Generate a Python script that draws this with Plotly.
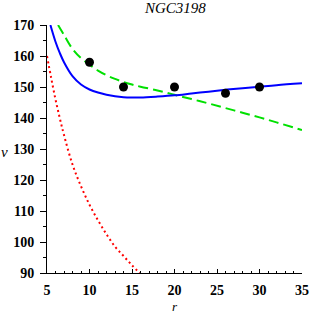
import plotly.graph_objects as go

# Observed data points
obs_r = [10, 14, 20, 26, 30]
obs_v = [158, 150, 150, 148, 150]

# Blue solid curve
blue_r = [5.4, 6, 6.5, 7, 8, 9, 10, 11, 12, 13, 14, 15, 16, 18, 20, 22, 24, 26, 28, 30, 32, 35]
blue_v = [170, 164.6, 161, 158, 153.5, 150.8, 149.2, 148.2, 147.5, 147, 146.7, 146.6, 146.6,
          146.9, 147.3, 147.9, 148.5, 149.1, 149.6, 150.1, 150.6, 151.2]

# Green dashed curve
green_r = [6.3, 7, 8, 9, 10, 11, 12, 13, 14, 15, 16, 18, 20, 22, 24, 26, 28, 30, 32, 35]
green_v = [170, 166.8, 162.3, 159.3, 157.2, 155.3, 153.8, 152.6, 151.6, 150.8, 150.1, 148.9, 147.5,
           146.1, 144.7, 143.2, 141.7, 140.2, 138.6, 136.1]

# Red dotted curve
red_r = [5, 5.5, 6, 6.5, 7, 8, 9, 10, 11, 12, 13, 14, 15, 16]
red_v = [160, 152.8, 146, 140, 134.5, 125, 118, 112, 107, 102.5, 98.5, 95.5, 92.5, 89.7]

x_ticks = [5, 10, 15, 20, 25, 30, 35]
y_ticks = [90, 100, 110, 120, 130, 140, 150, 160, 170]

fig = go.Figure()
fig.add_trace(go.Scatter(x=red_r, y=red_v, mode="lines",
                         line=dict(color="#ff0000", width=2, dash="2px,3px", shape="spline")))
fig.add_trace(go.Scatter(x=green_r, y=green_v, mode="lines",
                         line=dict(color="#00e000", width=2, dash="10px,5px", shape="spline")))
fig.add_trace(go.Scatter(x=blue_r, y=blue_v, mode="lines",
                         line=dict(color="#0000ff", width=2, shape="spline")))
fig.add_trace(go.Scatter(x=obs_r, y=obs_v, mode="markers",
                         marker=dict(color="black", size=9)))

tickfont = dict(family="Liberation Serif", size=14, color="black")

fig.update_layout(
    width=316, height=315,
    margin=dict(l=47, r=7, t=25, b=42),
    paper_bgcolor="white", plot_bgcolor="white",
    showlegend=False,
    xaxis=dict(range=[5, 35], tickvals=x_ticks, ticktext=[f"<b>{t}</b>" for t in x_ticks],
               showgrid=False, zeroline=False, showline=True, linecolor="black", linewidth=1,
               ticks="inside", ticklen=4, tickcolor="black", tickfont=tickfont,
               ticklabelstandoff=4,
               minor=dict(dtick=1, ticks="inside", ticklen=2, tickcolor="black", showgrid=False)),
    yaxis=dict(range=[90, 170], tickvals=y_ticks, ticktext=[f"<b>{t}</b>" for t in y_ticks],
               showgrid=False, zeroline=False, showline=True, linecolor="black", linewidth=1,
               ticks="outside", ticklen=6, tickcolor="black", tickfont=tickfont,
               ticklabelstandoff=3,
               minor=dict(dtick=5, ticks="outside", ticklen=3, tickcolor="black", showgrid=False)),
    annotations=[
        dict(text="<i>NGC3198</i>", x=0.5, y=1.07, xref="paper", yref="paper",
             showarrow=False, font=dict(family="Liberation Serif", size=15, color="black"),
             xanchor="center", yanchor="middle"),
        dict(text="<i>v</i>", x=-0.168, y=0.488, xref="paper", yref="paper",
             showarrow=False, font=dict(family="Liberation Serif", size=15, color="black"),
             xanchor="center", yanchor="middle"),
        dict(text="<i>r</i>", x=0.5, y=-0.137, xref="paper", yref="paper",
             showarrow=False, font=dict(family="Liberation Serif", size=13, color="black"),
             xanchor="center", yanchor="middle"),
    ],
)

fig.write_html("out.html", config={"displayModeBar": False},
               post_script="document.body.style.margin='0';document.body.style.padding='0';")
